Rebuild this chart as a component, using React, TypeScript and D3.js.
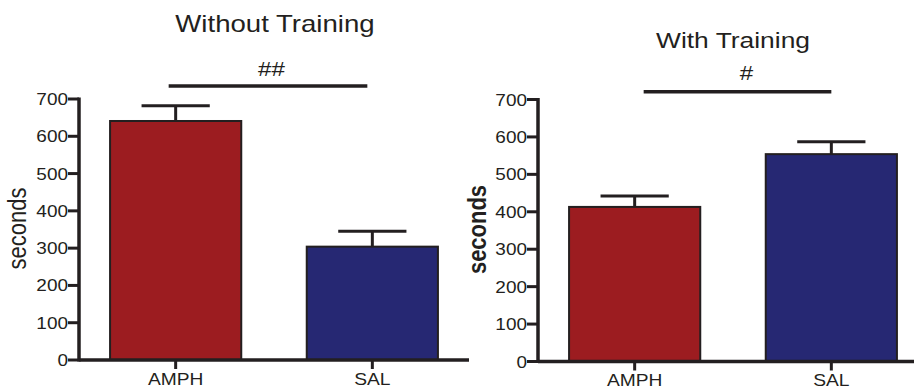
import React from 'react';
import { scaleBand, scaleLinear } from 'd3';

const groups = ['AMPH', 'SAL'];
const yTicks = [0, 100, 200, 300, 400, 500, 600, 700];

// Without Training
const noTrainMean = [641, 304];
const noTrainSem = [41, 41];
// With Training
const trainMean = [413, 554];
const trainSem = [29, 33];

const colors = ['#9c1c20', '#262873'];
const ink = '#231f20';
const font = '"Liberation Sans", Arial, sans-serif';

type PanelProps = {
  title: string;
  mark: string;
  means: number[];
  sems: number[];
  axisX: number;
  zeroY: number;
  topY: number;
  titleX: number;
  titleY: number;
  titleSize: number;
  markX: number;
  markY: number;
  sigY: number;
  sigFrom: number;
  sigTo: number;
  labelX: number;
  boldLabel?: boolean;
};

function Panel(p: PanelProps) {
  const x = scaleBand<string>()
    .domain(groups)
    .range([p.axisX, p.axisX + 390])
    .paddingInner(0.333)
    .paddingOuter(0.158);
  const y = scaleLinear().domain([0, 700]).range([p.zeroY, p.topY]);
  const bw = x.bandwidth();
  const cx = (g: string) => (x(g) as number) + bw / 2;

  return (
    <g>
      <text
        transform={`translate(${p.titleX},${p.titleY}) scale(1.2,1)`}
        textAnchor="middle"
        fontSize={p.titleSize}
        fill={ink}
      >
        {p.title}
      </text>
      <text
        transform={`translate(${p.markX},${p.markY}) scale(1.15,1)`}
        textAnchor="middle"
        fontSize={21}
        fill={ink}
      >
        {p.mark}
      </text>
      <line
        x1={cx(groups[0]) + p.sigFrom}
        x2={cx(groups[1]) + p.sigTo}
        y1={y(p.sigY)}
        y2={y(p.sigY)}
        stroke={ink}
        strokeWidth={3.5}
      />
      <text
        transform={`translate(${p.labelX},${(p.zeroY + p.topY) / 2 - 1}) scale(1.2,1) rotate(-90)`}
        textAnchor="middle"
        fontSize={22}
        fontWeight={p.boldLabel ? 'bold' : 'normal'}
        fill={ink}
      >
        seconds
      </text>

      {groups.map((g, i) => {
        const top = p.means[i] + p.sems[i];
        return (
          <g key={g}>
            <line x1={cx(g)} x2={cx(g)} y1={y(p.means[i])} y2={y(top)} stroke={ink} strokeWidth={3} />
            <line
              x1={cx(g) - bw * 0.26}
              x2={cx(g) + bw * 0.26}
              y1={y(top)}
              y2={y(top)}
              stroke={ink}
              strokeWidth={3}
            />
            <rect
              x={x(g)}
              y={y(p.means[i])}
              width={bw}
              height={y(0) - y(p.means[i])}
              fill={colors[i]}
              stroke={ink}
              strokeWidth={2}
            />
            <line x1={cx(g)} x2={cx(g)} y1={y(0)} y2={y(0) + 9} stroke={ink} strokeWidth={3} />
            <text
              transform={`translate(${cx(g)},${y(0) + 24.5}) scale(1.2,1)`}
              textAnchor="middle"
              fontSize={16}
              fill={ink}
            >
              {g}
            </text>
          </g>
        );
      })}

      {yTicks.map((t) => (
        <g key={t}>
          <line x1={p.axisX - 11} x2={p.axisX} y1={y(t)} y2={y(t)} stroke={ink} strokeWidth={3} />
          <text
            transform={`translate(${p.axisX - 11},${y(t) + 6}) scale(1.15,1)`}
            textAnchor="end"
            fontSize={16.5}
            fill={ink}
          >
            {t}
          </text>
        </g>
      ))}

      <line x1={p.axisX} x2={p.axisX} y1={y(700) - 1.5} y2={y(0) + 1.5} stroke={ink} strokeWidth={3.5} />
      <line x1={p.axisX} x2={p.axisX + 390} y1={y(0)} y2={y(0)} stroke={ink} strokeWidth={3.5} />
    </g>
  );
}

export default function App() {
  return (
    <svg
      width={914}
      height={389}
      style={{ position: 'fixed', left: 0, top: 0, background: '#fff' }}
      fontFamily={font}
    >
      <Panel
        title="Without Training"
        mark="##"
        means={noTrainMean}
        sems={noTrainSem}
        axisX={79}
        zeroY={360}
        topY={99}
        titleX={275}
        titleY={32}
        titleSize={23}
        markX={271.5}
        markY={76}
        sigY={735}
        sigFrom={-7}
        sigTo={-5}
        labelX={26}
      />
      <Panel
        title="With Training"
        mark="#"
        means={trainMean}
        sems={trainSem}
        axisX={538}
        zeroY={361.5}
        topY={99.5}
        titleX={733}
        titleY={48}
        titleSize={22}
        markX={746.5}
        markY={80}
        sigY={721}
        sigFrom={9}
        sigTo={0}
        labelX={486}
        boldLabel
      />
    </svg>
  );
}
